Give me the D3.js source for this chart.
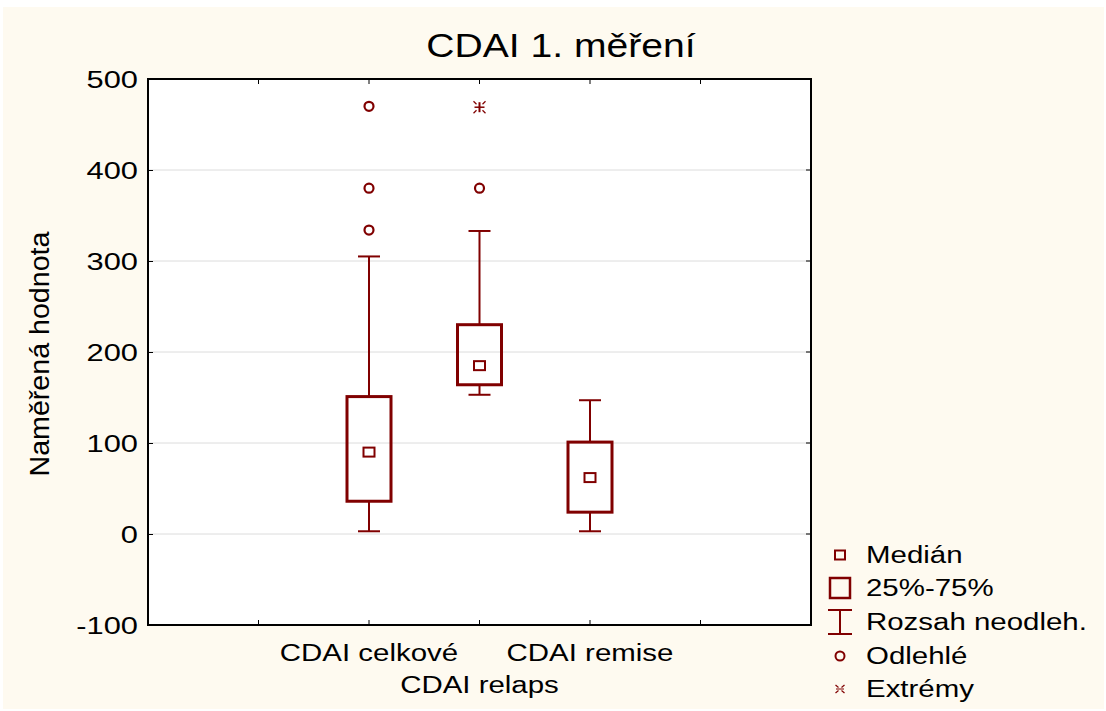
<!DOCTYPE html>
<html>
<head>
<meta charset="utf-8">
<script src="https://cdn.jsdelivr.net/npm/d3@7"></script>
<style>
  body { margin: 0; background: #ffffff; }
  text { font-family: "Liberation Sans", Arial, sans-serif; fill: #000; }
</style>
</head>
<body>
<script>
var w = 1106;
var h = 711;

// data
var categories = ["CDAI celkové", "CDAI relaps", "CDAI remise"];
var whiskerLow = [3, 153, 3];
var q1 = [36, 164, 24];
var medians = [90, 185, 62];
var q3 = [151, 230, 101];
var whiskerHigh = [305, 333, 147];
var outliers = [[470, 380, 334], [380], []];
var extremes = [[], [469], []];
var yTicks = [-100, 0, 100, 200, 300, 400, 500];
var legendLabels = ["Medián", "25%-75%", "Rozsah neodleh.", "Odlehlé", "Extrémy"];

var red = "#800000";
var plot = { left: 148, right: 811, top: 79, bottom: 625 };
var stretch = 1.28; // text in the original is wide

var svg = d3.select("body").append("svg")
    .attr("width", w)
    .attr("height", h);

// wide text helper
function wideText(sel, x, y, str, size, anchor, sx) {
    return sel.append("text")
        .attr("transform", "translate(" + x + "," + y + ") scale(" + (sx || stretch) + ",1)")
        .attr("text-anchor", anchor || "start")
        .style("font-size", size + "px")
        .text(str);
}

// background
svg.append("rect").attr("x", 3).attr("y", 7).attr("width", w - 5).attr("height", h - 9)
    .attr("fill", "#fefaf0");
svg.append("rect").attr("x", plot.left).attr("y", plot.top)
    .attr("width", plot.right - plot.left).attr("height", plot.bottom - plot.top)
    .attr("fill", "#ffffff");

// scales
var yScale = d3.scaleLinear().domain([-100, 500]).range([plot.bottom, plot.top]);
var xScale = d3.scaleLinear().domain([0, 6]).range([plot.left, plot.right]);
var xPos = function (i) { return xScale(i + 2); };

// grid lines
svg.append("g").selectAll("line")
    .data(yTicks.filter(function (d) { return d > -100 && d < 500; }))
    .enter().append("line")
    .attr("x1", plot.left).attr("x2", plot.right)
    .attr("y1", function (d) { return yScale(d); })
    .attr("y2", function (d) { return yScale(d); })
    .attr("stroke", "#dcdcdc").attr("stroke-width", 1);

// y axis
var yAxis = d3.axisLeft(yScale).tickValues(yTicks).tickSize(-5)
    .tickFormat(function (d) { return String(d); });
var gy = svg.append("g").attr("transform", "translate(" + plot.left + ",0)").call(yAxis);
gy.select(".domain").remove();
gy.selectAll("line").attr("stroke", "#000");
gy.selectAll("text")
    .style("font-size", "23px")
    .attr("x", -10 / 1.34)
    .attr("dy", "0.36em")
    .attr("transform", "scale(1.34,1)");

// top / bottom ticks
var xTicks = [1, 2, 3, 4, 5];
svg.append("g").selectAll("line").data(xTicks).enter().append("line")
    .attr("x1", function (d) { return xScale(d); }).attr("x2", function (d) { return xScale(d); })
    .attr("y1", plot.bottom).attr("y2", plot.bottom - 5)
    .attr("stroke", "#000");
svg.append("g").selectAll("line").data(xTicks).enter().append("line")
    .attr("x1", function (d) { return xScale(d); }).attr("x2", function (d) { return xScale(d); })
    .attr("y1", plot.top).attr("y2", plot.top + 5)
    .attr("stroke", "#000");
svg.append("g").selectAll("line").data(yTicks).enter().append("line")
    .attr("x1", plot.right).attr("x2", plot.right - 5)
    .attr("y1", function (d) { return yScale(d); }).attr("y2", function (d) { return yScale(d); })
    .attr("stroke", "#000");

// frame
svg.append("rect").attr("x", plot.left).attr("y", plot.top)
    .attr("width", plot.right - plot.left).attr("height", plot.bottom - plot.top)
    .attr("fill", "none").attr("stroke", "#000").attr("stroke-width", 2);

// boxes
var boxW = 44, capW = 22;
var g = svg.append("g");
categories.forEach(function (c, i) {
    var x = xPos(i);
    g.append("line").attr("x1", x).attr("x2", x)
        .attr("y1", yScale(whiskerHigh[i])).attr("y2", yScale(q3[i]))
        .attr("stroke", red).attr("stroke-width", 2);
    g.append("line").attr("x1", x).attr("x2", x)
        .attr("y1", yScale(q1[i])).attr("y2", yScale(whiskerLow[i]))
        .attr("stroke", red).attr("stroke-width", 2);
    [whiskerHigh[i], whiskerLow[i]].forEach(function (v) {
        g.append("line").attr("x1", x - capW / 2).attr("x2", x + capW / 2)
            .attr("y1", yScale(v)).attr("y2", yScale(v))
            .attr("stroke", red).attr("stroke-width", 2);
    });
    g.append("rect").attr("x", x - boxW / 2).attr("y", yScale(q3[i]))
        .attr("width", boxW).attr("height", yScale(q1[i]) - yScale(q3[i]))
        .attr("fill", "none").attr("stroke", red).attr("stroke-width", 3);
    g.append("rect").attr("x", x - 5.5).attr("y", yScale(medians[i]) - 4.5)
        .attr("width", 11).attr("height", 9)
        .attr("fill", "#fff").attr("stroke", red).attr("stroke-width", 2);
    outliers[i].forEach(function (v) {
        g.append("circle").attr("cx", x).attr("cy", yScale(v)).attr("r", 4.5)
            .attr("fill", "none").attr("stroke", red).attr("stroke-width", 2.2);
    });
    extremes[i].forEach(function (v) {
        drawExtreme(g, x, yScale(v), 1);
    });
});

function drawExtreme(sel, x, y, s) {
    sel.append("line").attr("x1", x).attr("x2", x).attr("y1", y - 5 * s).attr("y2", y + 5 * s)
        .attr("stroke", red).attr("stroke-width", 2);
    sel.append("line").attr("x1", x - 5 * s).attr("x2", x + 5 * s).attr("y1", y).attr("y2", y)
        .attr("stroke", red).attr("stroke-width", 1.5);
    [[-1, -1], [1, -1], [-1, 1], [1, 1]].forEach(function (d) {
        sel.append("line")
            .attr("x1", x + d[0] * 3 * s).attr("y1", y + d[1] * 3 * s)
            .attr("x2", x + d[0] * 6 * s).attr("y2", y + d[1] * 6 * s)
            .attr("stroke", red).attr("stroke-width", 1.2);
    });
}

// category labels (staggered)
categories.forEach(function (c, i) {
    wideText(svg, xPos(i), i % 2 === 0 ? 661 : 693, c, 23, "middle");
});

// title
wideText(svg, 561, 57, "CDAI 1. měření", 34, "middle", 1.15);

// y label
svg.append("text")
    .attr("transform", "translate(49,354) rotate(-90) scale(1.06,1)")
    .attr("text-anchor", "middle")
    .style("font-size", "27px")
    .text("Naměřená hodnota");

// legend
var lx = 840, ly = [555, 588, 622, 656, 689];
var lg = svg.append("g");
lg.append("rect").attr("x", lx - 5).attr("y", ly[0] - 4.5).attr("width", 10).attr("height", 9)
    .attr("fill", "none").attr("stroke", red).attr("stroke-width", 2);
lg.append("rect").attr("x", lx - 10).attr("y", ly[1] - 10).attr("width", 20).attr("height", 20)
    .attr("fill", "none").attr("stroke", red).attr("stroke-width", 2.5);
lg.append("line").attr("x1", lx - 12).attr("x2", lx + 12).attr("y1", ly[2] - 12).attr("y2", ly[2] - 12)
    .attr("stroke", red).attr("stroke-width", 2);
lg.append("line").attr("x1", lx - 12).attr("x2", lx + 12).attr("y1", ly[2] + 12).attr("y2", ly[2] + 12)
    .attr("stroke", red).attr("stroke-width", 2);
lg.append("line").attr("x1", lx).attr("x2", lx).attr("y1", ly[2] - 12).attr("y2", ly[2] + 12)
    .attr("stroke", red).attr("stroke-width", 2);
lg.append("circle").attr("cx", lx).attr("cy", ly[3]).attr("r", 4.5)
    .attr("fill", "none").attr("stroke", red).attr("stroke-width", 2);
[[-1, -1], [1, -1], [-1, 1], [1, 1]].forEach(function (d) {
    lg.append("line")
        .attr("x1", lx + d[0] * 1.5).attr("y1", ly[4] + d[1] * 1.5)
        .attr("x2", lx + d[0] * 4.5).attr("y2", ly[4] + d[1] * 4)
        .attr("stroke", red).attr("stroke-width", 1.2);
});
lg.append("line").attr("x1", lx - 4).attr("x2", lx + 4).attr("y1", ly[4]).attr("y2", ly[4])
    .attr("stroke", red).attr("stroke-width", 1);
legendLabels.forEach(function (t, i) {
    wideText(lg, 866, ly[i] + 8, t, 23, "start");
});
</script>
</body>
</html>
